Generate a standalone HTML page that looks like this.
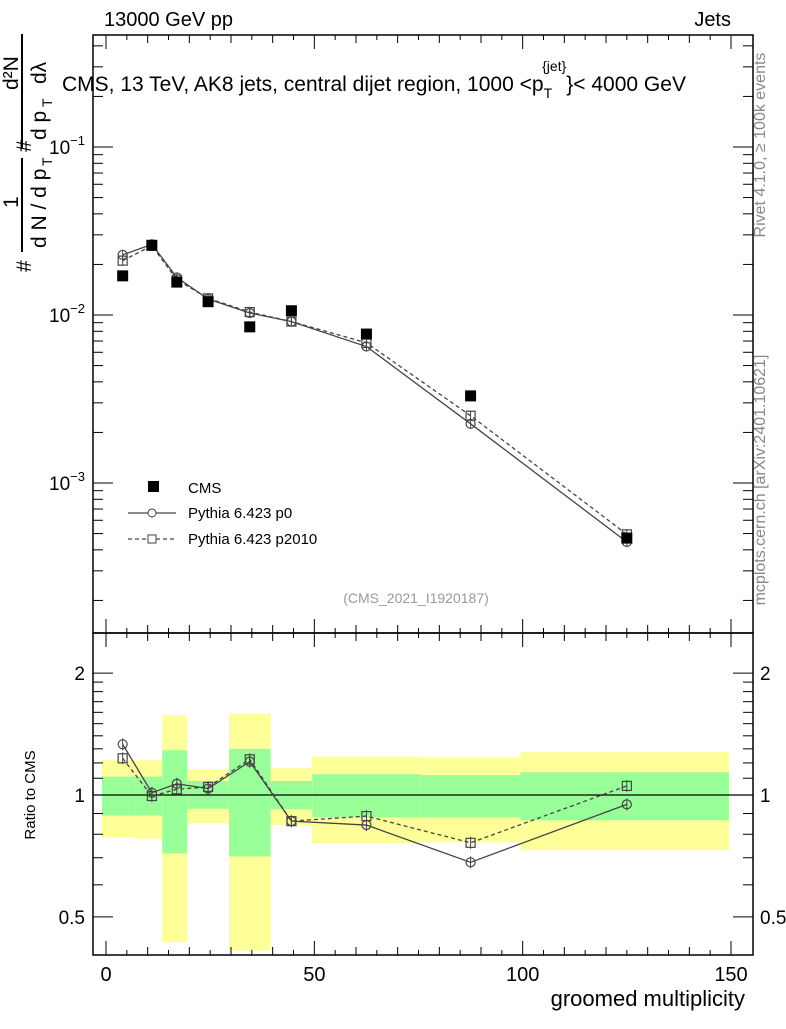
<!DOCTYPE html>
<html><head><meta charset="utf-8"><style>
body{margin:0;background:#fff}
svg{font-family:"Liberation Sans",sans-serif}
</style></head><body>
<svg id="c" width="786" height="1024" xmlns="http://www.w3.org/2000/svg">
<g id="bands"></g>
<g id="axes"></g>
<g id="marks"></g>
<text x="104" y="26" font-size="20">13000 GeV pp</text>
<text x="731" y="26" font-size="20" text-anchor="end">Jets</text>
<text x="62" y="91" font-size="21">CMS, 13 TeV, AK8 jets, central dijet region, 1000 &lt;p<tspan dy="7" font-size="14">T</tspan><tspan dy="-27" dx="-10" font-size="14">{jet}</tspan><tspan dy="20">}&lt; 4000 GeV</tspan></text>
<g transform="translate(0,270) rotate(-90)" font-size="21">
<text x="-2" y="31">#</text>
<text x="22" y="46">d N / d p</text><text x="104" y="52" font-size="14">T</text>
<text x="62" y="18">1</text>
<line x1="18" y1="22" x2="112" y2="22" stroke="#000" stroke-width="2"/>
<text x="118" y="31">#</text>
<text x="130" y="46">d p</text><text x="163" y="52" font-size="14">T</text><text x="186" y="46">d&#955;</text>
<text x="180" y="18">d²N</text>
<line x1="122" y1="22" x2="236" y2="22" stroke="#000" stroke-width="2"/>
</g>
<text x="35" y="795" font-size="15" text-anchor="middle" transform="rotate(-90 35 795)">Ratio to CMS</text>
<text x="745" y="1006" font-size="22" text-anchor="end">groomed multiplicity</text>
<text x="765" y="145" font-size="16" fill="#888" text-anchor="middle" transform="rotate(-90 765 145)">Rivet 4.1.0, ≥ 100k events</text>
<text x="765" y="480" font-size="16" fill="#888" text-anchor="middle" transform="rotate(-90 765 480)">mcplots.cern.ch [arXiv:2401.10621]</text>
<text x="416" y="603" font-size="14" fill="#999" text-anchor="middle">(CMS_2021_I1920187)</text>
<g>
<rect x="148" y="481" width="11" height="11" fill="#000"/>
<text x="188" y="493" font-size="15">CMS</text>
<line x1="128" y1="513" x2="176" y2="513" stroke="#444" stroke-width="1.2"/><circle cx="152" cy="513" r="4" fill="#fff" stroke="#444"/>
<text x="188" y="518" font-size="15">Pythia 6.423 p0</text>
<line x1="128" y1="539" x2="176" y2="539" stroke="#444" stroke-width="1.2" stroke-dasharray="4,3"/><rect x="148" y="535" width="8" height="8" fill="#fff" stroke="#444"/>
<text x="188" y="544" font-size="15">Pythia 6.423 p2010</text>
</g>
</svg>
<script>
const xVals=[4,11,17,24.5,34.5,44.5,62.5,87.5,125];
const cmsVals=[0.0171,0.026,0.0157,0.0120,0.0085,0.0106,0.0077,0.0033,0.00047];
const ratioP0=[1.334,1.013,1.066,1.037,1.209,0.862,0.843,0.682,0.948];
const ratioP2010=[1.232,0.994,1.033,1.047,1.225,0.862,0.887,0.762,1.053];
const binEdges=[-1,7,13.5,19.5,29.5,39.5,49.5,75.5,99.5,149.5];
const yellowHi=[1.218,1.218,1.575,1.157,1.59,1.164,1.244,1.239,1.275];
const yellowLo=[0.787,0.78,0.433,0.851,0.413,0.843,0.761,0.764,0.731];
const greenHi=[1.11,1.11,1.29,1.083,1.30,1.083,1.125,1.12,1.138];
const greenLo=[0.89,0.89,0.717,0.925,0.705,0.922,0.881,0.881,0.866];
const xTicks=[0,50,100,150];
const ratioTicks=[0.5,1,2];

const NS="http://www.w3.org/2000/svg";
const X=v=>106+v*(731-106)/150;
const YM=v=>315-168*(Math.log10(v)+2);
const YR=v=>795-405*Math.log10(v);
function mk(p,t,a){const e=document.createElementNS(NS,t);for(const k in a)e.setAttribute(k,a[k]);p.appendChild(e);return e;}
const bands=document.getElementById('bands'),axes=document.getElementById('axes'),marks=document.getElementById('marks');
for(let i=0;i<yellowHi.length;i++){
 const x0=X(binEdges[i]),x1=X(binEdges[i+1]);
 let r=mk(bands,'rect',{x:x0,width:x1-x0,y:YR(yellowHi[i]),height:YR(yellowLo[i])-YR(yellowHi[i]),fill:'#ffff99'});
 
 
 let g=mk(bands,'rect',{x:x0,width:x1-x0,y:YR(greenHi[i]),height:YR(greenLo[i])-YR(greenHi[i]),fill:'#99ff99'});
 
 
}
mk(axes,'rect',{x:93,y:35,width:660,height:598,fill:'none',stroke:'#000','stroke-width':1.5});
mk(axes,'rect',{x:93,y:633,width:660,height:322,fill:'none',stroke:'#000','stroke-width':1.5});
mk(axes,'line',{x1:93,x2:753,y1:YR(1),y2:YR(1),stroke:'#000','stroke-width':1.3});
for(let v=0;v<=150;v+=5){const L=v%50==0?14:(v%10==0?8:5);
 for(const [yb,yt] of [[633,35],[955,633]]){mk(axes,'line',{x1:X(v),x2:X(v),y1:yb,y2:yb-L,stroke:'#000'});mk(axes,'line',{x1:X(v),x2:X(v),y1:yt,y2:yt+L,stroke:'#000'});}}
xTicks.forEach(v=>{let t=mk(axes,'text',{x:X(v),y:981,'font-size':20,'text-anchor':'middle'});t.textContent=v;
 
 });
for(let d=-4;d<=-1;d++)for(let m=1;m<10;m++){const v=m*Math.pow(10,d),y=YM(v);if(y<35||y>633)continue;const L=m==1?20:10;
 mk(axes,'line',{x1:93,x2:93+L,y1:y,y2:y,stroke:'#000'});mk(axes,'line',{x1:753,x2:753-L,y1:y,y2:y,stroke:'#000'});}
[-1,-2,-3].forEach(d=>{let t=mk(axes,'text',{x:85,y:YM(Math.pow(10,d))+7,'font-size':19,'text-anchor':'end'});
 t.innerHTML='10<tspan dy="-9" font-size="13">'+(d==-1?'−1':d==-2?'−2':'−3')+'</tspan>';
 
 });
[0.4,0.5,0.6,0.7,0.8,0.9,1,1.1,1.2,1.3,1.4,1.5,1.6,1.7,1.8,1.9,2].forEach(v=>{const y=YR(v);if(y>955)return;const L=(v==0.5||v==1||v==2)?20:10;
 mk(axes,'line',{x1:93,x2:93+L,y1:y,y2:y,stroke:'#000'});mk(axes,'line',{x1:753,x2:753-L,y1:y,y2:y,stroke:'#000'});});
ratioTicks.forEach(v=>{for(const [x,a] of [[85,'end'],[760,'start']]){let t=mk(axes,'text',{x:x,y:YR(v)+7,'font-size':19,'text-anchor':a});t.textContent=v;
 
 }});
function series(vals,yf,dash,shape,name,eb){
 const pts=vals.map((v,i)=>[X(xVals[i]),yf(v,i)]);
 let p=mk(marks,'polyline',{points:pts.map(p=>p.join(',')).join(' '),fill:'none',stroke:'#444','stroke-width':1.3,'stroke-dasharray':dash});
 
 
 pts.forEach(([x,y])=>{mk(marks,'line',{x1:x,x2:x,y1:y-eb,y2:y+eb,stroke:'#444'});
  let m=shape=='c'?mk(marks,'circle',{cx:x,cy:y,r:4.5,fill:'none',stroke:'#444','stroke-width':1.2}):mk(marks,'rect',{x:x-4.5,y:y-4.5,width:9,height:9,fill:'none',stroke:'#444','stroke-width':1.2});
  
  });
}
series(ratioP0,(v,i)=>YM(v*cmsVals[i]),'none','c','p0-main',5);
series(ratioP2010,(v,i)=>YM(v*cmsVals[i]),'4,3','s','p2010-main',5);
series(ratioP0,v=>YR(v),'none','c','p0-ratio',6);
series(ratioP2010,v=>YR(v),'4,3','s','p2010-ratio',6);
cmsVals.forEach((v,i)=>{let r=mk(marks,'rect',{x:X(xVals[i])-5.5,y:YM(v)-5.5,width:11,height:11,fill:'#000'});
 
 });
</script>
</body></html>
